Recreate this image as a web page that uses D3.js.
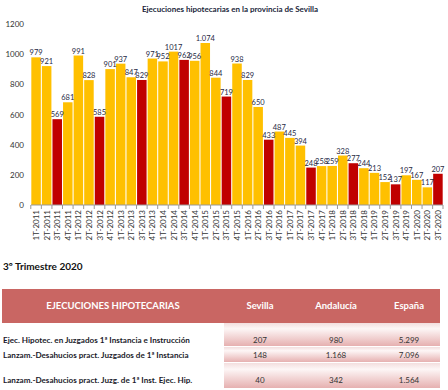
<!DOCTYPE html>
<html><head><meta charset="utf-8">
<script src="https://cdn.jsdelivr.net/npm/d3@7"></script>
<style>body{margin:0;background:#fff;}svg{display:block;font-family:Lato,"Open Sans",sans-serif;}</style>
</head><body>
<svg id="c" width="448" height="390"></svg>
<script>
const categories = ["1T-2011","2T-2011","3T-2011","4T-2011","1T-2012","2T-2012","3T-2012","4T-2012","1T-2013","2T-2013","3T-2013","4T-2013","1T-2014","2T-2014","3T-2014","4T-2014","1T-2015","2T-2015","3T-2015","4T-2015","1T-2016","2T-2016","3T-2016","4T-2016","1T-2017","2T-2017","3T-2017","4T-2017","1T-2018","2T-2018","3T-2018","4T-2018","1T-2019","2T-2019","3T-2019","4T-2019","1T-2020","2T-2020","3T-2020"];
const values = [979,921,569,681,991,828,585,901,937,847,829,971,952,1017,962,956,1074,844,719,938,829,650,433,487,445,394,248,258,259,328,277,244,213,152,137,197,167,117,207];
const valueLabels = ["979","921","569","681","991","828","585","901","937","847","829","971","952","1017","962","956","1.074","844","719","938","829","650","433","487","445","394","248","258","259","328","277","244","213","152","137","197","167","117","207"];
const yTicks = [0,200,400,600,800,1000,1200];
const title = "Ejecuciones hipotecarias en la provincia de Sevilla";
const subtitle = "3º Trimestre 2020";
const tableHeader = ["EJECUCIONES HIPOTECARIAS","Sevilla","Andalucía","España"];
const rowLabels = ["Ejec. Hipotec. en Juzgados 1ª Instancia e Instrucción","Lanzam.-Desahucios pract. Juzgados de 1ª Instancia","Lanzam.-Desahucios pract. Juzg. de 1ª Inst. Ejec. Hip."];
const sevilla = ["207","148","40"];
const andalucia = ["980","1.168","342"];
const espana = ["5.299","7.096","1.564"];

const svg = d3.select("#c");
const x = d3.scaleBand().domain(categories).range([31,443]).paddingInner(0.1).paddingOuter(0.03);
const y = d3.scaleLinear().domain([0,1200]).range([205,24]);
const YEL = "#FFC000", RED = "#C00000";

svg.append("text").attr("x",230).attr("y",12).attr("text-anchor","middle")
  .attr("font-size",8).attr("font-weight","bold").attr("fill","#1a1f3a").text(title);

// y labels
svg.append("g").selectAll("text").data(yTicks).join("text")
  .attr("x",24).attr("y",d=>y(d)+3).attr("text-anchor","end")
  .attr("font-size",8).attr("fill","#333").text(d=>d);

// bars
svg.append("g").selectAll("rect").data(values).join("rect")
  .attr("x",(d,i)=>x(categories[i])).attr("width",x.bandwidth())
  .attr("y",d=>y(d)).attr("height",d=>y(0)-y(d))
  .attr("fill",(d,i)=>categories[i].startsWith("3T")?RED:YEL);

// value labels
svg.append("g").selectAll("text").data(values).join("text")
  .attr("x",(d,i)=>x(categories[i])+x.bandwidth()/2).attr("y",d=>y(d)-2)
  .attr("text-anchor","middle").attr("font-size",7.5).attr("fill","#1f2a44")
  .text((d,i)=>valueLabels[i]);

// x axis
const xa = svg.append("g").attr("transform","translate(0,205)");
xa.append("line").attr("x1",31).attr("x2",443).attr("stroke","#999").attr("stroke-width",1);
const step = x.step();
const bounds = categories.map(c=>x(c)-step*x.paddingInner()/2).concat([443]);
xa.selectAll("line.t").data(bounds).join("line").attr("class","t")
  .attr("x1",d=>d).attr("x2",d=>d).attr("y1",0).attr("y2",4).attr("stroke","#999");
xa.selectAll("text").data(categories).join("text")
  .attr("transform",d=>`translate(${x(d)+x.bandwidth()/2+3},5) rotate(-90)`)
  .attr("text-anchor","end").attr("font-size",8).attr("fill","#333").text(d=>d);

// subtitle
svg.append("text").attr("x",3).attr("y",270).attr("font-size",10).attr("font-weight","bold").attr("fill","#111").text(subtitle);

// table
const defs = svg.append("defs");
const g = defs.append("linearGradient").attr("id","cell").attr("x1",0).attr("x2",0).attr("y1",0).attr("y2",1);
g.append("stop").attr("offset","0%").attr("stop-color","#f3dede");
g.append("stop").attr("offset","25%").attr("stop-color","#fdf6f6");
g.append("stop").attr("offset","100%").attr("stop-color","#e6b0b0");

svg.append("rect").attr("x",2).attr("y",289).attr("width",438).attr("height",34).attr("fill","#C96663");
const colX = [113,260,336,409];
svg.append("g").selectAll("text").data(tableHeader).join("text")
  .attr("x",(d,i)=>colX[i]).attr("y",309).attr("text-anchor","middle")
  .attr("font-size",9.5).attr("font-weight","bold").attr("fill","#fff").text(d=>d);

const rowY0 = [323,347,363], rowH = [23,15,25], rowBase = [343,358,383];
svg.append("g").selectAll("rect").data(rowY0).join("rect")
  .attr("x",224).attr("y",d=>d).attr("width",216).attr("height",(d,i)=>rowH[i]).attr("fill","url(#cell)");
svg.append("g").selectAll("text").data(rowLabels).join("text")
  .attr("x",3).attr("y",(d,i)=>rowBase[i]).attr("font-size",8.1).attr("font-weight","bold").attr("fill","#1a1a2a").text(d=>d);
[sevilla,andalucia,espana].forEach((col,ci)=>{
  svg.append("g").selectAll("text").data(col).join("text")
    .attr("x",colX[ci+1]).attr("y",(d,i)=>rowBase[i]).attr("text-anchor","middle")
    .attr("font-size",8).attr("fill","#333").text(d=>d);
});
</script>
</body></html>
